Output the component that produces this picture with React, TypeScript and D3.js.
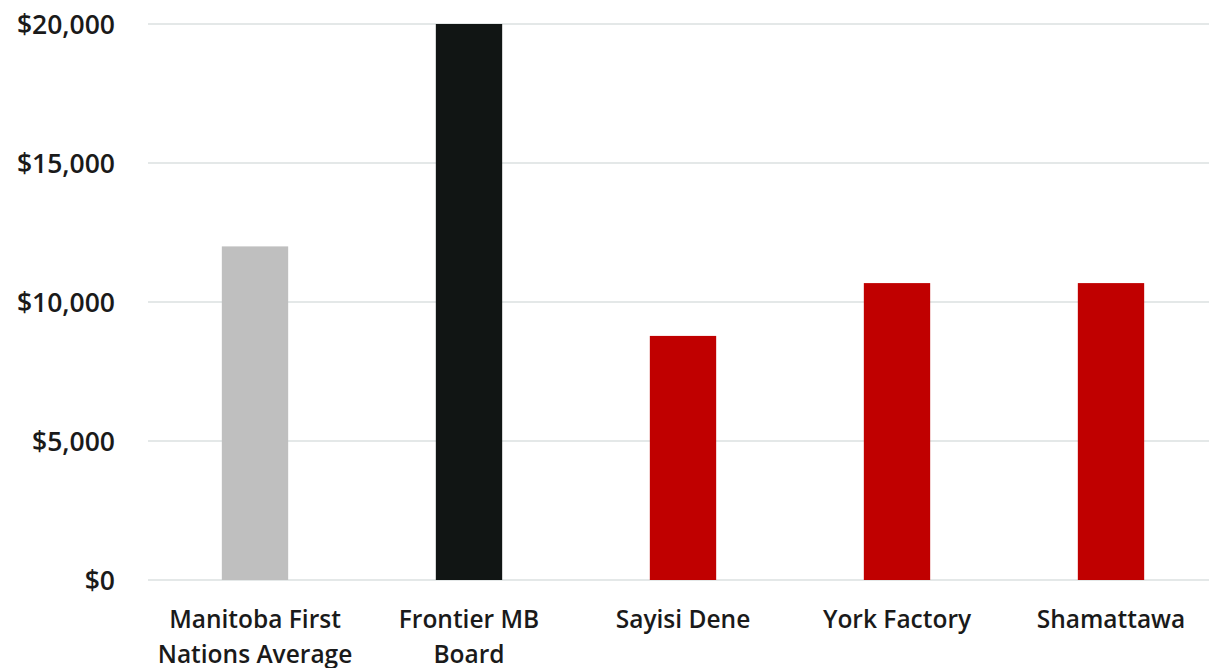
import React, { useEffect, useRef } from 'react';
import * as d3 from 'd3';

const categories = [
  ['Manitoba First', 'Nations Average'],
  ['Frontier MB', 'Board'],
  ['Sayisi Dene'],
  ['York Factory'],
  ['Shamattawa'],
];
const values = [12000, 20000, 8780, 10680, 10680];
const barColors = ['#bfbfbf', '#111514', '#c00000', '#c00000', '#c00000'];
const yTicks = [0, 5000, 10000, 15000, 20000];

const App: React.FC = () => {
  const ref = useRef<SVGSVGElement>(null);

  useEffect(() => {
    if (ref.current) draw(ref.current);
  }, []);

  return <svg ref={ref} width={1209} height={668} style={{ position: 'absolute', left: 0, top: 0 }}></svg>;
};

const draw = (el: SVGSVGElement) => {
  const svg = d3.select(el);
  svg.selectAll('*').remove();

  const left = 148;
  const right = 1218;
  const top = 24;
  const bottom = 580;
  const font = "'Open Sans', 'Noto Sans', sans-serif";

  const names = categories.map((c) => c.join(' '));

  const x = d3.scaleBand().domain(names).range([left, right]).paddingInner(0.69).paddingOuter(0.345);
  const y = d3.scaleLinear().domain([0, 20000]).range([bottom, top]);

  // grid
  svg
    .append('g')
    .selectAll('line')
    .data(yTicks)
    .enter()
    .append('line')
    .attr('x1', left)
    .attr('x2', 1209)
    .attr('y1', (d) => y(d))
    .attr('y2', (d) => y(d))
    .attr('stroke', '#dbe1e1')
    .attr('stroke-width', 1.5);

  // y labels
  svg
    .append('g')
    .selectAll('text')
    .data(yTicks)
    .enter()
    .append('text')
    .attr('x', 115)
    .attr('y', (d) => y(d))
    .attr('dy', '0.36em')
    .attr('text-anchor', 'end')
    .attr('font-family', font)
    .attr('font-size', 26.5)
    .attr('font-weight', 600)
    .attr('fill', '#1a1a1a')
    .text((d) => '$' + d3.format(',')(d));

  // bars
  svg
    .append('g')
    .selectAll('rect')
    .data(values)
    .enter()
    .append('rect')
    .attr('x', (_, i) => x(names[i]) || 0)
    .attr('width', x.bandwidth())
    .attr('y', (d) => y(d))
    .attr('height', (d) => bottom - y(d))
    .attr('fill', (_, i) => barColors[i]);

  // category labels
  const cat = svg
    .append('g')
    .selectAll('text')
    .data(categories)
    .enter()
    .append('text')
    .attr('text-anchor', 'middle')
    .attr('font-family', font)
    .attr('font-size', 24.5)
    .attr('font-weight', 600)
    .attr('fill', '#1a1a1a')
    .attr('x', (_, i) => (x(names[i]) || 0) + x.bandwidth() / 2)
    .attr('y', 628);

  cat
    .selectAll('tspan')
    .data((d) => d)
    .enter()
    .append('tspan')
    .attr('x', function () {
      return (this as SVGTSpanElement).parentElement!.getAttribute('x');
    })
    .attr('dy', (_, i) => (i === 0 ? 0 : 35))
    .text((d) => d);
};

export default App;
